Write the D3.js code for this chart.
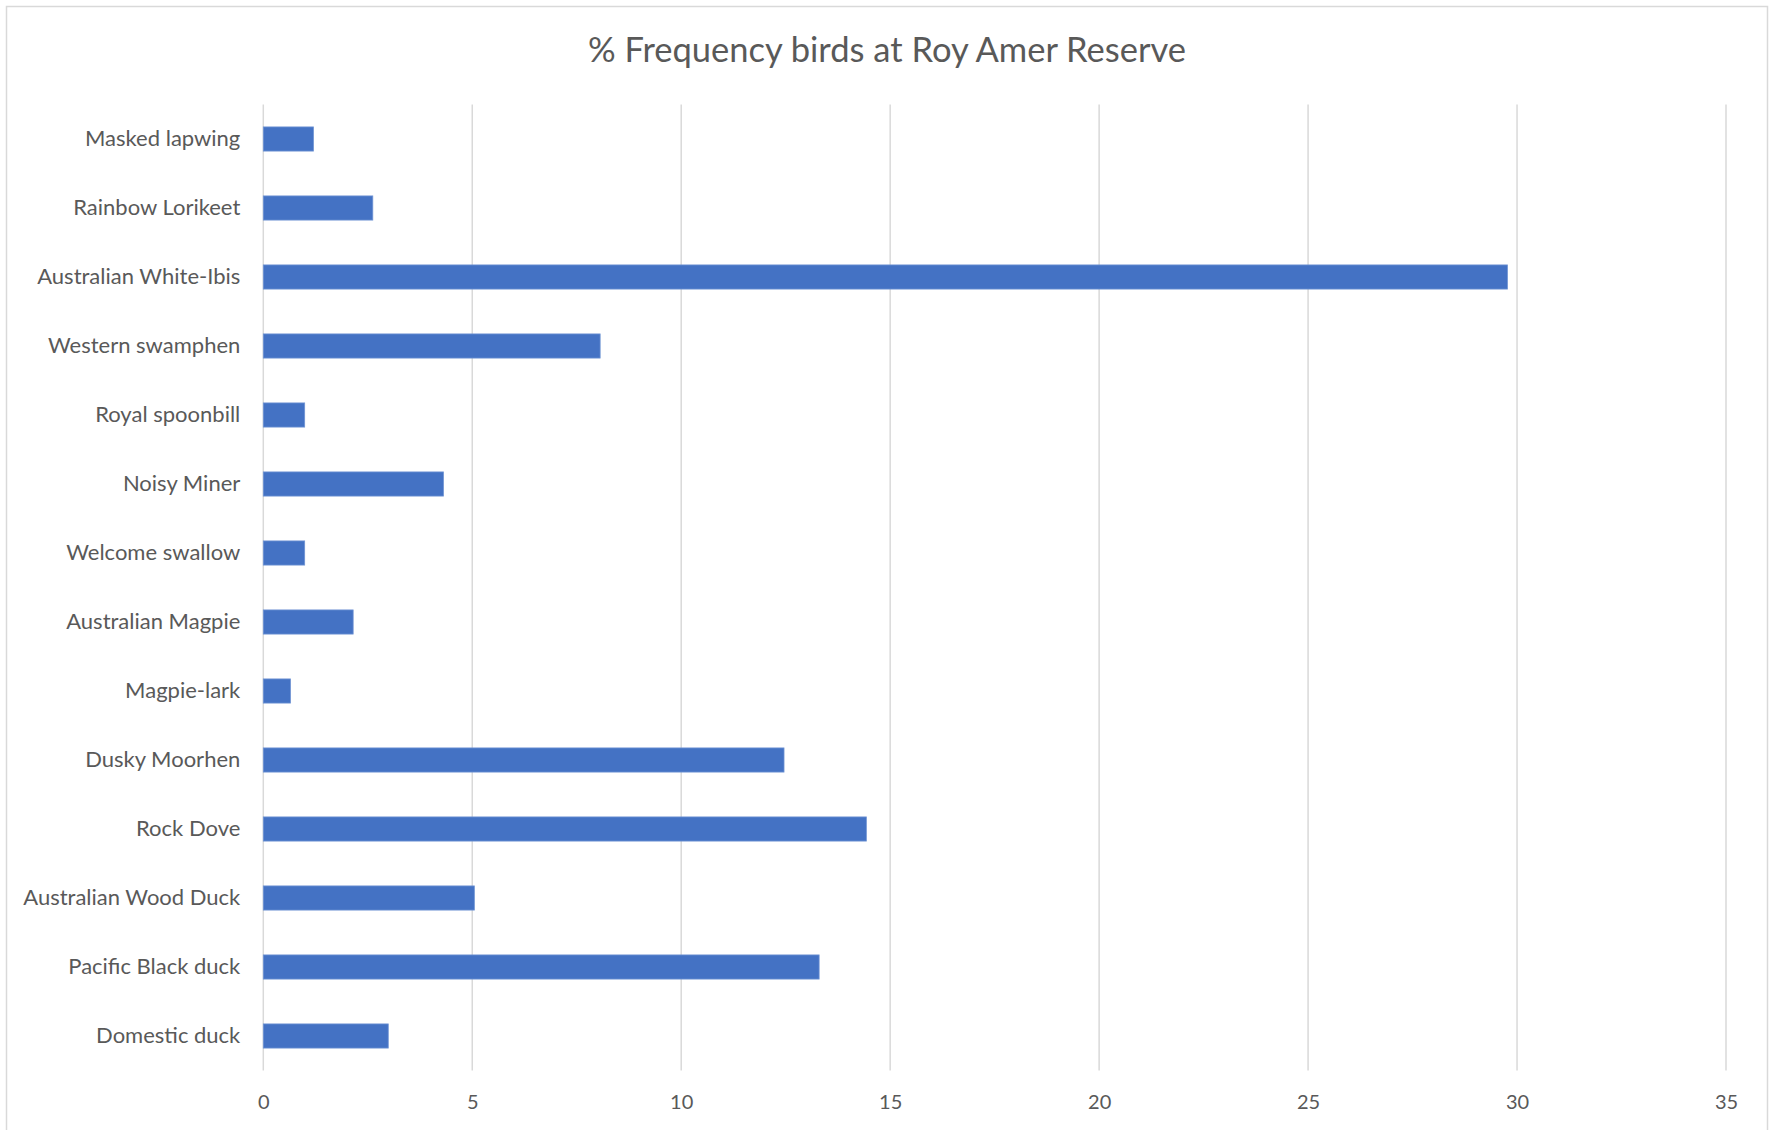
<!DOCTYPE html>
<html>
<head>
<meta charset="utf-8">
<script src="https://cdn.jsdelivr.net/npm/d3@7"></script>
<style>
  body { margin: 0; background: #fff; }
  svg text { font-family: Lato, "Open Sans", sans-serif; fill: #595959; }
</style>
</head>
<body>
<div id="chart"></div>
<script>
// Data, top row first
let birds = ["Masked lapwing", "Rainbow Lorikeet", "Australian White-Ibis", "Western swamphen",
    "Royal spoonbill", "Noisy Miner", "Welcome swallow", "Australian Magpie", "Magpie-lark",
    "Dusky Moorhen", "Rock Dove", "Australian Wood Duck", "Pacific Black duck", "Domestic duck"];
let freq = [1.2, 2.62, 29.77, 8.06, 0.99, 4.31, 0.99, 2.15, 0.65, 12.46, 14.43, 5.05, 13.3, 2.99];
let xTicks = [0, 5, 10, 15, 20, 25, 30, 35];
let title = "% Frequency birds at Roy Amer Reserve";

//----------------------------------------
// SVG setup
let width = 1769,
    height = 1130;
let margin = {top: 104.5, right: 43, bottom: 59.5, left: 263.3};

let svg = d3.select('#chart').append('svg')
    .attr('width', width)
    .attr('height', height);

// chart border
svg.append('rect')
    .attr('x', 6.5).attr('y', 6.5)
    .attr('width', width - 8).attr('height', height + 10)
    .style('fill', 'none')
    .style('stroke', '#d9d9d9')
    .style('stroke-width', 1.5);

//----------------------------------------
// Scales
let x = d3.scaleLinear()
    .domain([0, 35])
    .range([margin.left, width - margin.right]);

let y = d3.scaleBand()
    .domain(birds)
    .range([margin.top, height - margin.bottom])
    .paddingInner(0.65)
    .paddingOuter(0.325);

//----------------------------------------
// Gridlines
svg.append('g')
    .selectAll('line')
    .data(xTicks)
    .enter()
    .append('line')
    .attr('x1', d => x(d)).attr('x2', d => x(d))
    .attr('y1', margin.top).attr('y2', height - margin.bottom)
    .style('stroke', '#d9d9d9')
    .style('stroke-width', 1.5);

// x tick labels
let xAxis = svg.append('g')
    .attr('transform', 'translate(0,' + (height - margin.bottom) + ')')
    .call(d3.axisBottom(x).tickValues(xTicks).tickSize(0).tickPadding(24));
xAxis.select('.domain').remove();
xAxis.selectAll('text')
    .style('font-size', '20px')
    .style('font-family', 'Lato, sans-serif')
    .attr('fill', '#595959');

// category labels
let yAxis = svg.append('g')
    .attr('transform', 'translate(' + margin.left + ',0)')
    .call(d3.axisLeft(y).tickSize(0).tickPadding(23));
yAxis.select('.domain').remove();
yAxis.selectAll('text')
    .style('font-size', '22px')
    .style('font-family', 'Lato, sans-serif')
    .attr('fill', '#595959');

//----------------------------------------
// Bars
svg.append('g')
    .selectAll('rect')
    .data(birds)
    .enter()
    .append('rect')
    .attr('x', x(0))
    .attr('y', d => y(d))
    .attr('width', (d, i) => x(freq[i]) - x(0))
    .attr('height', y.bandwidth())
    .style('fill', '#4472c4')
    .style('stroke', '#6f93d3')
    .style('stroke-width', 0.8);

//----------------------------------------
// Title
svg.append('text')
    .attr('x', 887)
    .attr('y', 62)
    .attr('text-anchor', 'middle')
    .style('font-size', '34.5px')
    .text(title);
</script>
</body>
</html>
